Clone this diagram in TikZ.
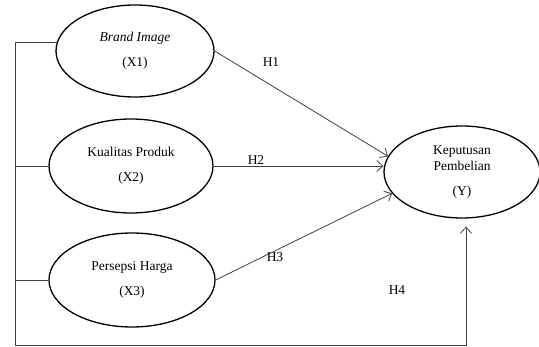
\documentclass[tikz,border=0pt]{standalone}
\usepackage{fontspec}
\setmainfont{Liberation Serif}
\usetikzlibrary{arrows.meta,positioning,shapes.geometric}

\begin{document}
\begin{tikzpicture}[x=1pt,y=-1pt,
    var/.style={draw, ellipse, line width=1.3pt, inner sep=0pt, align=center,
      font=\fontsize{13.5}{16.5}\selectfont},
    link/.style={black!75, line width=0.8pt},
    hyp/.style={link, -{Straight Barb[length=6pt,width=11pt]}},
    lab/.style={font=\fontsize{13.5}{16}\selectfont}
  ]
  \useasboundingbox (0,0) rectangle (539,347);

  % Variabel
  \node[var, minimum width=158pt, minimum height=92pt] (x1) at (135,51) {\textit{Brand Image}\\[9pt](X1)};
  \node[var, minimum width=164pt, minimum height=94pt] (x2) at (131,166) {Kualitas Produk\\[9pt](X2)};
  \node[var, minimum width=166pt, minimum height=94pt] (x3) at (132,280) {Persepsi Harga\\[9pt](X3)};
  \node[var, minimum width=156pt, minimum height=92pt] (y) at (462,172) {Keputusan\\Pembelian\\[8pt](Y)};

  % Hipotesis
  \draw[hyp] (x1.east) -- (y.168);
  \draw[hyp] (x2.east) -- (x2.east -| y.west);
  \draw[hyp] (x3.east) -- (y.197);

  % Simultan
  \coordinate (lft) at (15,345);
  \draw[hyp] (x1.174) -| (lft) -| ([xshift=4pt,yshift=-8pt]y.south);
  \draw[link] (x2.west) -- (x2.west -| lft);
  \draw[link] (x3.west) -- (x3.west -| lft);

  % Label
  \node[lab] (h1) at (271,62) {H1};
  \node[lab] (h2) at (256,160) {H2};
  \node[lab] (h3) at (275,257) {H3};
  \node[lab] (h4) at (397,290) {H4};
\end{tikzpicture}
\end{document}
